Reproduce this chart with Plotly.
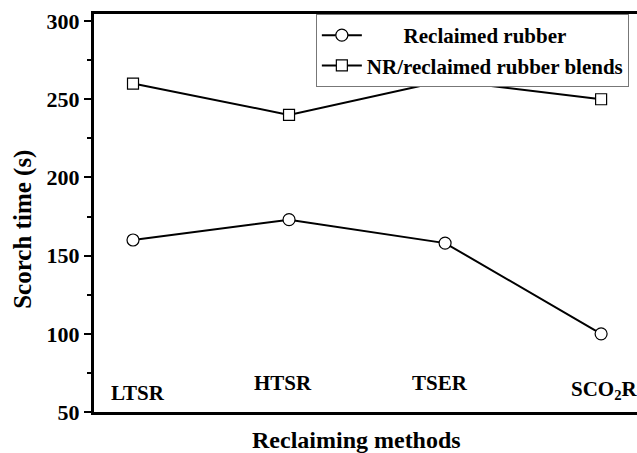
import plotly.graph_objects as go

categories = ["LTSR", "HTSR", "TSER", "SCO2R"]
category_labels = ["LTSR", "HTSR", "TSER", "SCO<sub>2</sub>R"]
reclaimed_rubber = [160, 173, 158, 100]
nr_blends = [260, 240, 262, 250]
y_ticks = [50, 100, 150, 200, 250, 300]

FONT = "Liberation Serif, Times New Roman, serif"

fig = go.Figure()
fig.add_trace(go.Scatter(
    x=categories, y=reclaimed_rubber, mode="lines+markers",
    name="\u00a0" * 7 + "Reclaimed rubber",
    line=dict(color="black", width=2),
    marker=dict(symbol="circle", size=12, color="white", line=dict(color="black", width=1.2)),
))
fig.add_trace(go.Scatter(
    x=categories, y=nr_blends, mode="lines+markers",
    name="NR/reclaimed rubber blends",
    line=dict(color="black", width=2),
    marker=dict(symbol="square", size=11, color="white", line=dict(color="black", width=1.2)),
))

label_y_paper = [0.048, 0.073, 0.073, 0.055]
label_xshift = [5, -6, -5, 3]
for cat, lab, yp, xs in zip(categories, category_labels, label_y_paper, label_xshift):
    fig.add_annotation(x=cat, y=yp, xref="x", yref="paper", text=lab, xshift=xs,
                       yanchor="middle", showarrow=False,
                       font=dict(family=FONT, size=21, color="black", weight="bold"))

# axis titles
fig.add_annotation(x=0.483, y=-0.07, xref="paper", yref="paper", text="Reclaiming methods",
                   xanchor="center", yanchor="middle", showarrow=False,
                   font=dict(family=FONT, size=24, color="black", weight="bold"))
fig.add_annotation(x=-0.131, y=0.46, xref="paper", yref="paper", text="Scorch time (s)",
                   textangle=-90, xanchor="center", yanchor="middle", showarrow=False,
                   font=dict(family=FONT, size=25, color="black", weight="bold"))

fig.update_layout(
    width=637, height=453,
    margin=dict(l=94, r=0, t=14, b=41),
    plot_bgcolor="white", paper_bgcolor="white",
    font=dict(family=FONT, size=21, color="black", weight="bold"),
    showlegend=True,
    legend=dict(
        x=0.985, y=1, xanchor="right", yanchor="top",
        bordercolor="#777", borderwidth=1, bgcolor="white",
        font=dict(family=FONT, size=21, color="black", weight="bold"),
        tracegroupgap=0, itemwidth=40,
    ),
    xaxis=dict(
        type="category", range=[-0.25, 3.23],
        showline=True, linecolor="black", linewidth=3, mirror=True,
        showticklabels=False, ticks="", showgrid=False, zeroline=False,
    ),
    yaxis=dict(
        range=[50, 304.5], tickvals=y_ticks,
        showline=True, linecolor="black", linewidth=3, mirror=False,
        ticks="outside", ticklen=7, tickwidth=2, tickcolor="black",
        minor=dict(dtick=25, tick0=50, ticks="outside", ticklen=4, tickwidth=2, tickcolor="black"),
        tickfont=dict(family=FONT, size=22, weight="bold"),
        showgrid=False, zeroline=False,
    ),
)

fig.write_html("out.html")
